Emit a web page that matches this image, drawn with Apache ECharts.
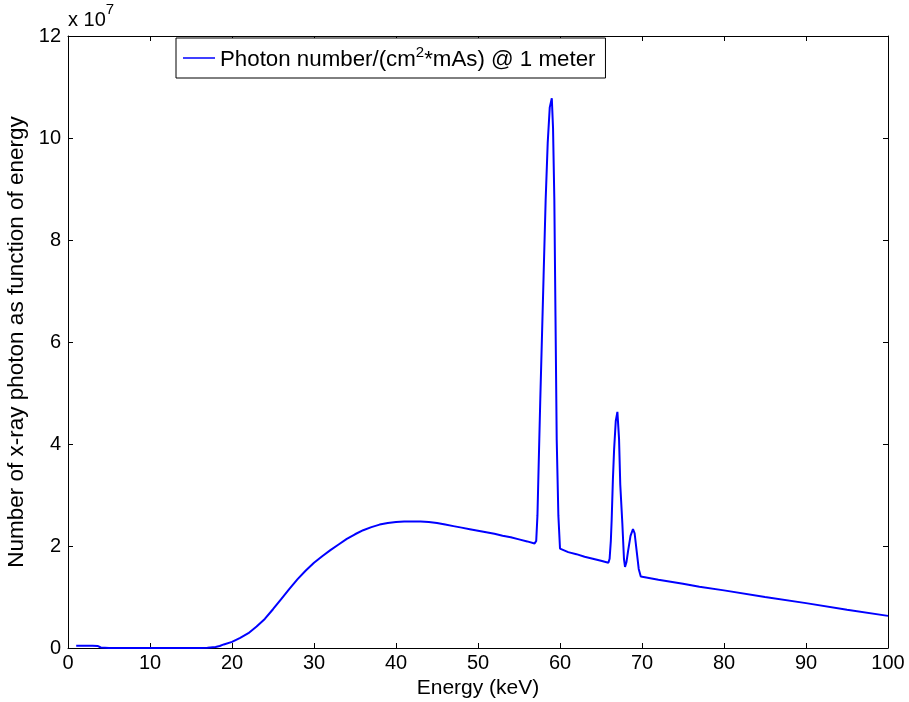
<!DOCTYPE html>
<html>
<head>
<meta charset="utf-8">
<script src="https://cdn.jsdelivr.net/npm/echarts@6/dist/echarts.min.js"></script>
<style>html,body{margin:0;padding:0;background:#fff;}#c{width:909px;height:702px;}</style>
</head>
<body>
<div id="c"></div>
<script>
// Energy (keV)
const energy = [1, 2, 3, 3.6, 4, 5, 8, 12, 16, 17, 18, 18.5, 19, 20, 21, 22, 23, 24, 25, 26, 27, 28, 29, 30, 31, 32, 33, 34, 35, 36, 37, 38, 39, 40, 41, 42, 43, 44, 45, 46, 47, 48, 49, 50, 51, 52, 53, 54, 55, 56, 56.9,
  57.1, 57.25, 57.4, 57.6, 57.8, 58.0, 58.25, 58.5, 58.75, 59.0, 59.15, 59.31, 59.45, 59.6, 59.8, 60.0,
  60.1, 61, 62, 63, 64, 65, 65.9,
  66.05, 66.2, 66.3, 66.45, 66.6, 66.8, 67.0, 67.2, 67.35, 67.6, 67.8, 67.93, 68.1, 68.3, 68.6, 68.9, 69.1, 69.35, 69.6, 69.85,
  70, 72, 75, 77, 80, 85, 90, 95, 100];
// Photon number (x 10^7)
const photons = [0.045, 0.045, 0.042, 0.04, 0.01, 0.0, 0.0, 0.0, 0.0, 0.005, 0.02, 0.04, 0.07, 0.12, 0.2, 0.29, 0.42, 0.57, 0.76, 0.96, 1.16, 1.35, 1.52, 1.67, 1.80, 1.92, 2.03, 2.14, 2.23, 2.31, 2.37, 2.42, 2.45, 2.47, 2.48, 2.48, 2.48, 2.47, 2.45, 2.42, 2.39, 2.36, 2.33, 2.30, 2.27, 2.24, 2.20, 2.17, 2.13, 2.09, 2.05,
  2.10, 2.6, 3.6, 4.9, 6.1, 7.3, 8.78, 9.9, 10.6, 10.78, 10.2, 8.78, 6.5, 4.08, 2.6, 1.95,
  1.92, 1.88, 1.84, 1.79, 1.75, 1.71, 1.67,
  1.75, 2.1, 2.51, 3.3, 3.9, 4.45, 4.63, 4.1, 3.2, 2.45, 1.75, 1.59, 1.68, 1.9, 2.2, 2.33, 2.25, 1.9, 1.55, 1.40,
  1.39, 1.34, 1.26, 1.20, 1.13, 1.00, 0.88, 0.75, 0.63];
const xTicks = [0, 10, 20, 30, 40, 50, 60, 70, 80, 90, 100];
const yTicks = [0, 2, 4, 6, 8, 10, 12];
const seriesName = 'Photon number/(cm2*mAs) @ 1 meter';
const xTitle = 'Energy (keV)';
const yTitle = 'Number of x-ray photon as function of energy';

const FONT = 'Liberation Sans, Arial, sans-serif';
const chart = echarts.init(document.getElementById('c'), null, {renderer: 'canvas'});
const pts = energy.map((e, i) => [e, photons[i]]);
const axisCommon = {
  axisLine: {show: true, onZero: false, lineStyle: {color: '#000', width: 1}},
  axisTick: {show: true, inside: true, length: 5, lineStyle: {color: '#000'}},
  splitLine: {show: false}
};
chart.setOption({
  animation: false,
  backgroundColor: '#fff',
  grid: {left: 68, right: 21, top: 36, bottom: 54, containLabel: false, outerBoundsMode: 'none'},
  xAxis: [
    Object.assign({type: 'value', min: xTicks[0], max: xTicks[xTicks.length-1], interval: 10, position: 'bottom',
      name: xTitle, nameLocation: 'middle', nameGap: 27, nameTextStyle: {color: '#000', fontSize: 21, fontFamily: FONT},
      axisLabel: {color: '#000', fontSize: 20, fontFamily: FONT, margin: 5}}, axisCommon),
    Object.assign({type: 'value', min: xTicks[0], max: xTicks[xTicks.length-1], interval: 10, position: 'top',
      axisLabel: {show: false}}, axisCommon)
  ],
  yAxis: [
    Object.assign({type: 'value', min: yTicks[0], max: yTicks[yTicks.length-1], interval: 2, position: 'left',
      name: yTitle, nameLocation: 'middle', nameGap: 31, nameTextStyle: {color: '#000', fontSize: 22.5, fontFamily: FONT},
      axisLabel: {color: '#000', fontSize: 20, fontFamily: FONT, margin: 7}}, axisCommon),
    Object.assign({type: 'value', min: yTicks[0], max: yTicks[yTicks.length-1], interval: 2, position: 'right',
      axisLabel: {show: false}}, axisCommon)
  ],
  legend: {
    left: 176, top: 38,
    data: [seriesName],
    icon: 'rect', itemWidth: 32, itemHeight: 1.5, itemGap: 0,
    padding: [7, 10, 7, 7],
    borderColor: '#000', borderWidth: 1, backgroundColor: '#fff',
    formatter: function () { return '{a|Photon number/(cm}{s|2}{a|*mAs) @ 1 meter}'; },
    textStyle: {
      color: '#000', fontFamily: FONT, fontSize: 22.3,
      rich: {
        a: {fontSize: 22.3, fontFamily: FONT, color: '#000', lineHeight: 26, verticalAlign: 'bottom'},
        s: {fontSize: 15, fontFamily: FONT, color: '#000', lineHeight: 26, verticalAlign: 'top'}
      }
    }
  },
  graphic: [{
    type: 'text', left: 68, top: 2,
    style: {
      text: '{a|x 10}{s|7}',
      rich: {
        a: {fontSize: 20, fontFamily: FONT, fill: '#000', lineHeight: 28, verticalAlign: 'bottom'},
        s: {fontSize: 15, fontFamily: FONT, fill: '#000', lineHeight: 28, verticalAlign: 'top'}
      }
    }
  }],
  series: [{
    name: seriesName, type: 'line', data: pts, showSymbol: false, smooth: false,
    xAxisIndex: 0, yAxisIndex: 0,
    lineStyle: {color: '#0000ff', width: 2}, itemStyle: {color: '#0000ff'}
  }]
});
</script>
</body>
</html>
